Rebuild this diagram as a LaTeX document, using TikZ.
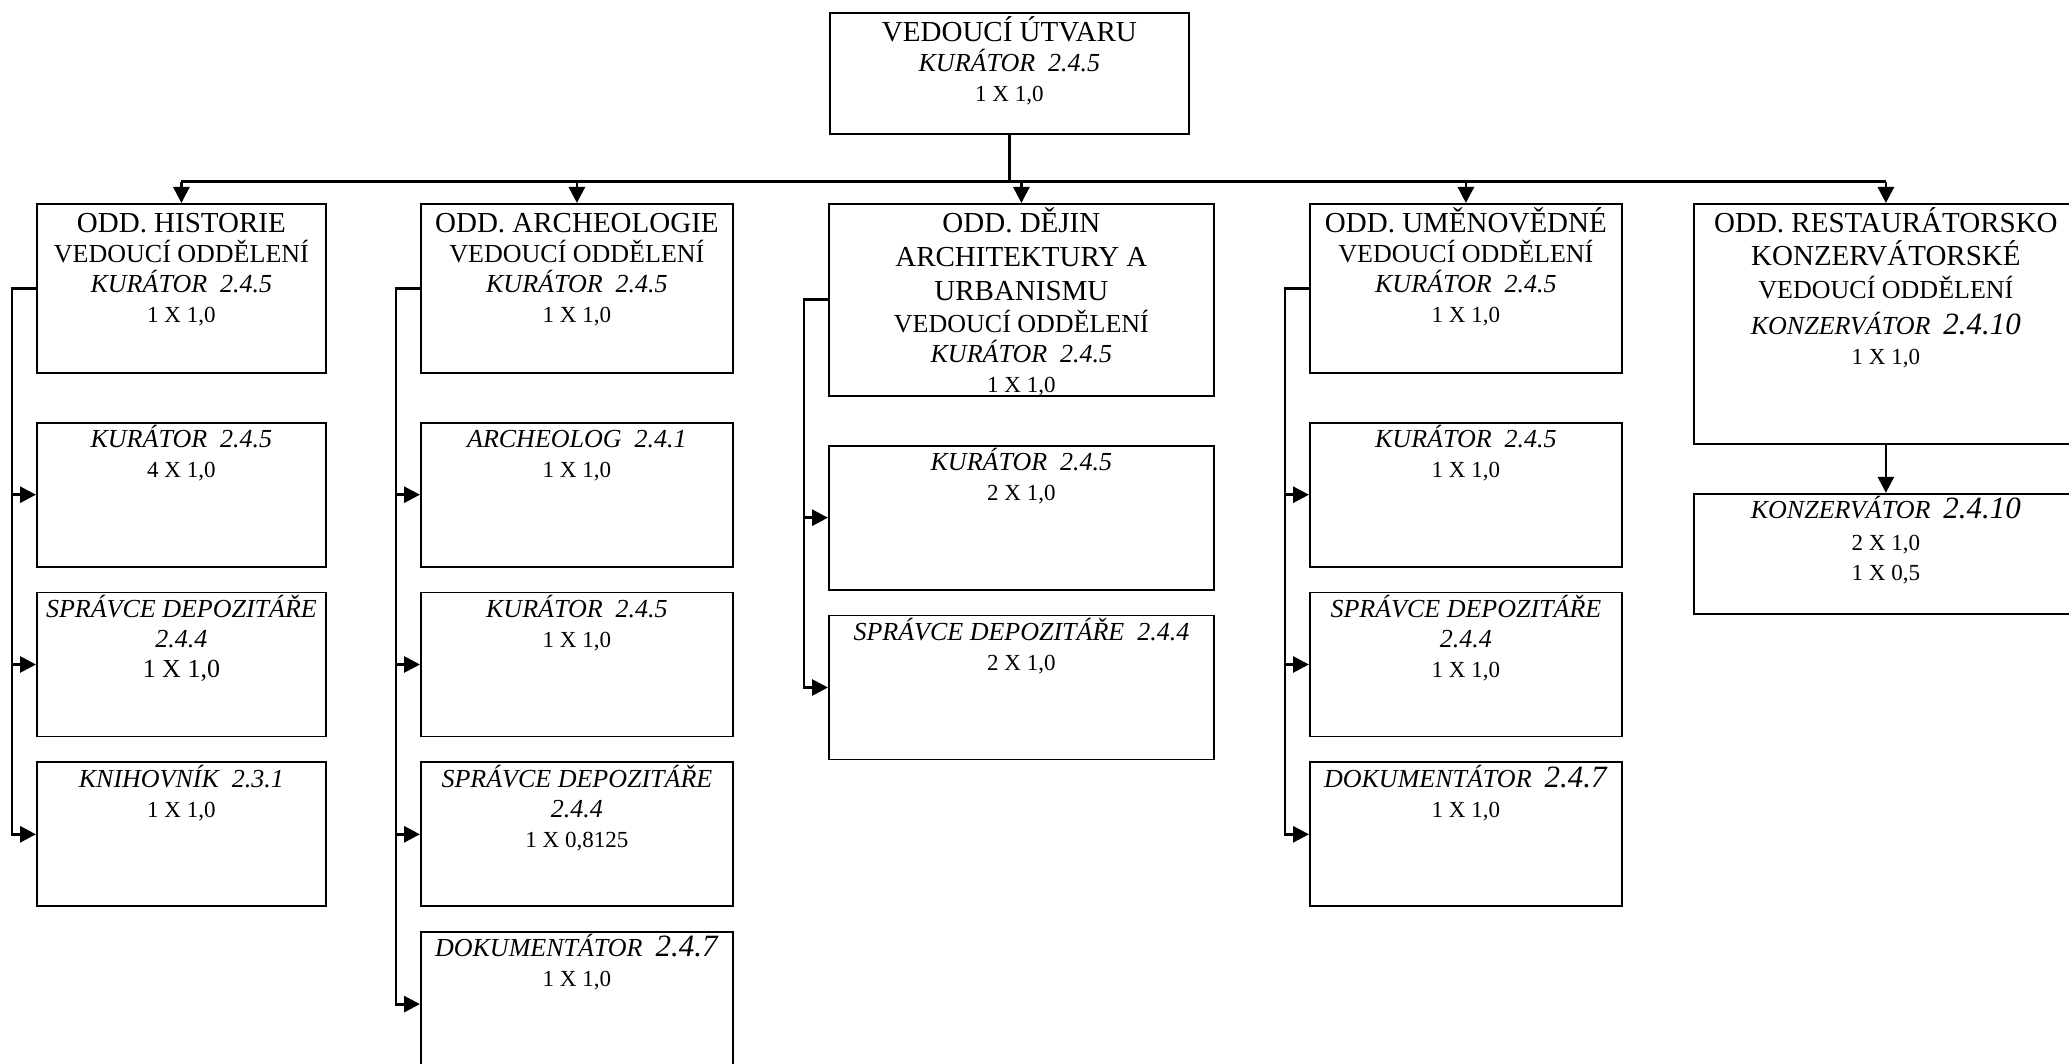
\documentclass[tikz,border=0pt]{standalone}
\usepackage{fontspec}
\setmainfont{Liberation Serif}
\usetikzlibrary{arrows.meta, positioning}

\newcommand{\hd}{\fontsize{14.5pt}{15pt}\selectfont}
\newcommand{\cnt}{\fontsize{11.5pt}{15pt}\selectfont}
\newcommand{\bignum}{\fontsize{15.5pt}{15pt}\selectfont}

\begin{document}
\begin{tikzpicture}[
  x=0.5pt, y=-0.5pt,
  box/.style={draw, line width=0.9pt, inner sep=0pt},
  txt/.style={anchor=north, align=center, inner sep=1.5pt, font=\fontsize{13pt}{15pt}\selectfont},
  head/.style={box, anchor=north west, label={[txt]north:{\rule{0pt}{13pt}#1}}},
  sub/.style={box, minimum height=72pt, label={[txt]north:{\rule{0pt}{11pt}#1}}},
  wire/.style={line width=1.4pt},
  arr/.style={wire, -{Triangle[length=8pt, width=8pt]}},
  node distance=12pt
]
\useasboundingbox (0,0) rectangle (2069,1064);

% vedeni
\node[head={{\hd VEDOUCÍ ÚTVARU}\\\textit{KURÁTOR~~2.4.5}\\{\cnt 1 X 1,0}},
  minimum width=179.5pt, minimum height=60.5pt] (ved) at (829,12) {};

% historie
\begin{scope}[box/.append style={minimum width=144.5pt}]
\node[head={{\hd ODD. HISTORIE}\\VEDOUCÍ ODDĚLENÍ\\\textit{KURÁTOR~~2.4.5}\\{\cnt 1 X 1,0}},
  minimum height=84.5pt] (his) at (36,203) {};
\node[sub={\textit{KURÁTOR~~2.4.5}\\{\cnt 4 X 1,0}}, below=24pt of his] (his1) {};
\node[sub={\textit{SPRÁVCE DEPOZITÁŘE}\\\textit{2.4.4}\\1 X 1,0}, below=of his1] (his2) {};
\node[sub={\textit{KNIHOVNÍK~~2.3.1}\\{\cnt 1 X 1,0}}, below=of his2] (his3) {};
\end{scope}

% archeologie
\begin{scope}[box/.append style={minimum width=156pt}]
\node[head={{\hd ODD. ARCHEOLOGIE}\\VEDOUCÍ ODDĚLENÍ\\\textit{KURÁTOR~~2.4.5}\\{\cnt 1 X 1,0}},
  minimum height=84.5pt] (arc) at (420,203) {};
\node[sub={\textit{ARCHEOLOG~~2.4.1}\\{\cnt 1 X 1,0}}, below=24pt of arc] (arc1) {};
\node[sub={\textit{KURÁTOR~~2.4.5}\\{\cnt 1 X 1,0}}, below=of arc1] (arc2) {};
\node[sub={\textit{SPRÁVCE DEPOZITÁŘE}\\\textit{2.4.4}\\{\cnt 1 X 0,8125}}, below=of arc2] (arc3) {};
\node[sub={\textit{DOKUMENTÁTOR~~{\bignum 2.4.7}}\\{\cnt 1 X 1,0}}, below=of arc3] (arc4) {};
\end{scope}

% dejiny architektury
\begin{scope}[box/.append style={minimum width=192.5pt}]
\node[head={{\hd ODD. DĚJIN}\\[2pt]{\hd ARCHITEKTURY A}\\[2pt]{\hd URBANISMU}\\[1pt]VEDOUCÍ ODDĚLENÍ\\\textit{KURÁTOR~~2.4.5}\\{\cnt 1 X 1,0}},
  minimum height=96pt] (dej) at (828,203) {};
\node[sub={\textit{KURÁTOR~~2.4.5}\\{\cnt 2 X 1,0}}, below=24pt of dej] (dej1) {};
\node[sub={\textit{SPRÁVCE DEPOZITÁŘE~~2.4.4}\\{\cnt 2 X 1,0}}, below=of dej1] (dej2) {};
\end{scope}

% umenovedne
\begin{scope}[box/.append style={minimum width=156pt}]
\node[head={{\hd ODD. UMĚNOVĚDNÉ}\\VEDOUCÍ ODDĚLENÍ\\\textit{KURÁTOR~~2.4.5}\\{\cnt 1 X 1,0}},
  minimum height=84.5pt] (ume) at (1309,203) {};
\node[sub={\textit{KURÁTOR~~2.4.5}\\{\cnt 1 X 1,0}}, below=24pt of ume] (ume1) {};
\node[sub={\textit{SPRÁVCE DEPOZITÁŘE}\\\textit{2.4.4}\\{\cnt 1 X 1,0}}, below=of ume1] (ume2) {};
\node[sub={\textit{DOKUMENTÁTOR~~{\bignum 2.4.7}}\\{\cnt 1 X 1,0}}, below=of ume2] (ume3) {};
\end{scope}

% restauratorsko konzervatorske
\begin{scope}[box/.append style={minimum width=192pt}]
\node[head={{\hd ODD. RESTAURÁTORSKO}\\[1.5pt]{\hd KONZERVÁTORSKÉ}\\[1.5pt]VEDOUCÍ ODDĚLENÍ\\[3pt]\textit{KONZERVÁTOR~~{\bignum 2.4.10}}\\{\cnt 1 X 1,0}},
  minimum height=120pt] (res) at (1693,203) {};
\node[sub={\textit{KONZERVÁTOR~~{\bignum 2.4.10}}\\[1pt]{\cnt 2 X 1,0}\\{\cnt 1 X 0,5}},
  minimum height=60pt, below=24pt of res] (res1) {};
\end{scope}

% propojeni
\draw[wire] (ved.south) -- ++(0,-23.5pt) coordinate (bus);
\draw[wire] (bus -| his.north) -- (bus -| res.north);
\foreach \n in {his,arc,dej,ume,res}
  \draw[arr] (bus -| \n.north) -- (\n.north);

\foreach \s in {his1,his2,his3}
  \draw[arr] (his.west) -- ++(-12pt,0) |- (\s.west);
\foreach \s in {arc1,arc2,arc3,arc4}
  \draw[arr] (arc.west) -- ++(-12pt,0) |- (\s.west);
\foreach \s in {dej1,dej2}
  \draw[arr] (dej.west) -- ++(-12pt,0) |- (\s.west);
\foreach \s in {ume1,ume2,ume3}
  \draw[arr] (ume.west) -- ++(-12pt,0) |- (\s.west);
\draw[arr] (res) -- (res1);
\end{tikzpicture}
\end{document}
